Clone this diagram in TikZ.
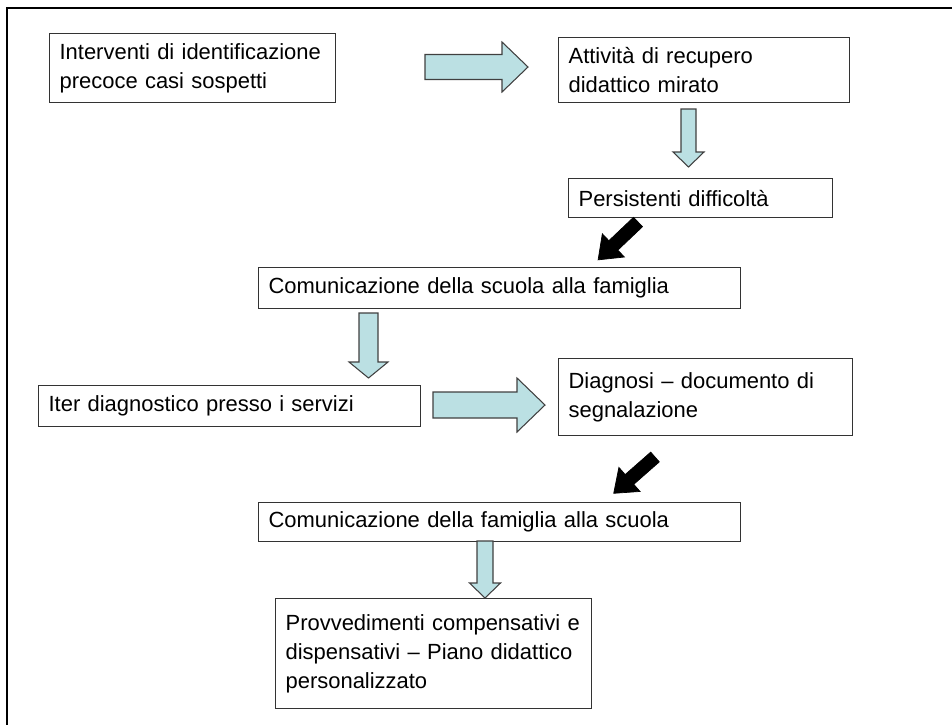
\documentclass[tikz,border=0pt]{standalone}
\usepackage{fontspec}
\setmainfont{Liberation Sans}
\usepackage{xcolor}
\usepackage{tikz}
\definecolor{line}{HTML}{333333}
\definecolor{arrowfill}{HTML}{BBE0E3}
\definecolor{arrowline}{HTML}{404040}
\tikzset{
  box/.style={draw=line, line width=0.7pt, anchor=north west, align=left,
    inner xsep=0.2cm, inner ysep=0pt, font=\fontsize{12.5}{16.4}\selectfont,
    execute at begin node={\hyphenpenalty=10000\relax}},
  frame/.style={draw=black, line width=1.4pt},
  blue arrow/.style={draw=arrowline, fill=arrowfill, line width=0.6pt, line join=miter},
  black arrow/.style={draw=black, fill=black, line width=0.4pt}
}
% block arrow: style, tail, angle, length, shaft half, head half, head length
\newcommand\blockarrow[7]{%
  \begin{scope}[shift={#2}, rotate=#3]
    \draw[#1] (0,-#5) -- ({#4-#7},-#5) -- ({#4-#7},-#6) -- (#4,0)
      -- ({#4-#7},#6) -- ({#4-#7},#5) -- (0,#5) -- cycle;
  \end{scope}}

\begin{document}
\begin{tikzpicture}[x=0.02cm, y=-0.02cm]
\useasboundingbox (0,0) rectangle (952,724);
\clip (0,0) rectangle (952,724);
\draw[frame] (7,8) rectangle (1000,800);

\node[box, text width=5.32cm, minimum height=1.38cm] (ident) at (49,33)
  {Interventi di identificazione\\precoce casi sospetti};
\node[box, text width=5.42cm, minimum height=1.30cm] (recup) at (558,37)
  {Attività di recupero\\didattico mirato};
\node[box, text width=4.88cm, minimum height=0.78cm] (diffic) at (568,178)
  {Persistenti difficoltà};
\node[box, text width=9.24cm, minimum height=0.82cm] (comscuola) at (258,267)
  {Comunicazione della scuola alla famiglia};
\node[box, text width=7.24cm, minimum height=0.82cm] (iter) at (38,385)
  {Iter diagnostico presso i servizi};
\node[box, text width=5.48cm, minimum height=1.54cm] (diagn) at (558,358)
  {Diagnosi -- documento di\\segnalazione};
\node[box, text width=9.24cm, minimum height=0.78cm] (comfam) at (258,502)
  {Comunicazione della famiglia alla scuola};
\node[box, text width=5.92cm, minimum height=2.20cm] (provv) at (275,598)
  {Provvedimenti compensativi e\\dispensativi -- Piano didattico\\personalizzato};

% block arrows
\blockarrow{blue arrow}{(425,67)}{0}{103}{12.5}{25}{26}
\blockarrow{blue arrow}{(688.5,109)}{-90}{58}{7.5}{15.5}{15}
\blockarrow{black arrow}{(638,222)}{223.5}{55}{6.5}{16}{21}
\blockarrow{blue arrow}{(368.5,313)}{-90}{65}{9.5}{19.5}{16}
\blockarrow{blue arrow}{(433,405)}{0}{112}{13}{27}{28}
\blockarrow{black arrow}{(655,457)}{221.3}{55}{6.5}{16}{21}
\blockarrow{blue arrow}{(485,541)}{-90}{57}{8}{15.5}{15}
\end{tikzpicture}
\end{document}
